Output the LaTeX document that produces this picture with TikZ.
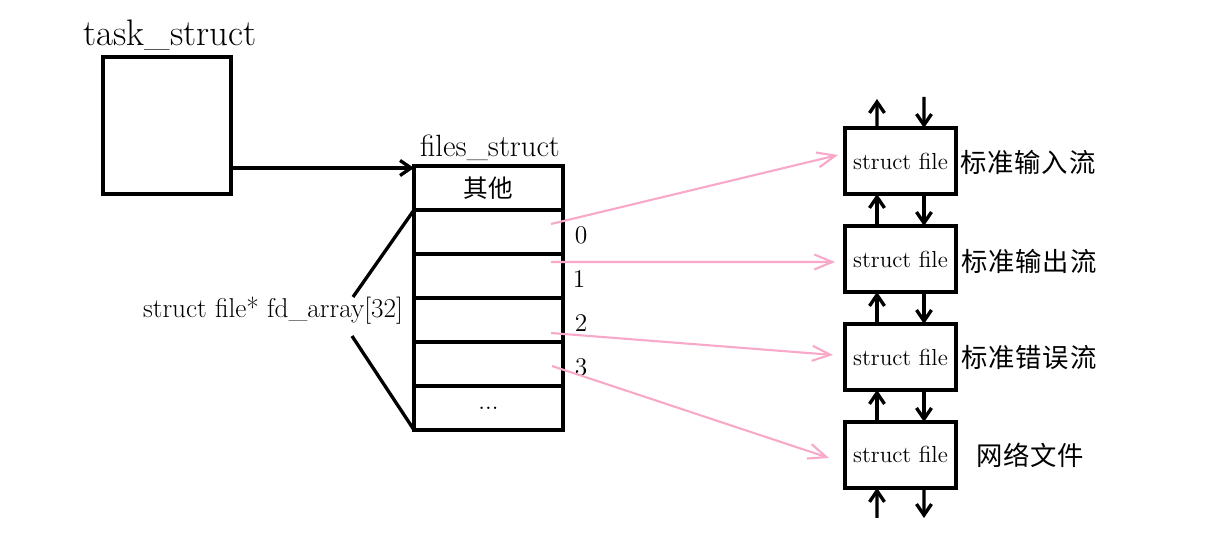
\documentclass[tikz,border=0pt]{standalone}
\usepackage{fontspec}
\usepackage{xcolor}
\usepackage{tikz}
\newfontfamily\cjk[LetterSpace=3]{Noto Sans CJK SC}
\definecolor{linkpink}{RGB}{248,168,200}
\tikzset{
  box/.style={draw, line width=1.9pt, minimum width=2.22cm, minimum height=1.32cm,
              inner sep=0pt, outer sep=0pt, font=\fontsize{13.2}{15}\selectfont},
  slot/.style={draw, line width=1.9pt, minimum width=2.98cm, minimum height=0.88cm,
               inner sep=0pt, outer sep=0pt, font=\fontsize{14}{16}\selectfont},
  lbl/.style={inner sep=0pt, font=\fontsize{14.5}{16}\selectfont},
  cjklbl/.style={inner sep=0pt, font=\fontsize{15}{17}\selectfont\cjk},
  arrow/.style={-{Straight Barb[length=2.2mm,width=3mm]}, line width=1.9pt},
  link/.style={-{Straight Barb[length=3.6mm,width=3mm]}, line width=1.2pt, linkpink}
}
\usetikzlibrary{positioning, arrows.meta, calc}

\begin{document}
\begin{tikzpicture}[x=0.02cm, y=-0.02cm]
    \useasboundingbox (0,0) rectangle (1218,536);

    \node[draw, line width=1.9pt, minimum width=2.56cm, minimum height=2.74cm, outer sep=0pt] (task) at (167,125.5) {};
    \node[lbl, font=\fontsize{21}{23}\selectfont] (tasklbl) at (170,35) {task\_struct};

    \node[slot] (other) at (488.5,188) {\cjk 其他};
    \node[slot, below=0pt of other] (fd0) {};
    \node[slot, below=0pt of fd0] (fd1) {};
    \node[slot, below=0pt of fd1] (fd2) {};
    \node[slot, below=0pt of fd2] (fd3) {};
    \node[slot, below=0pt of fd3] (more) {...};
    \node[lbl, font=\fontsize{17.5}{19}\selectfont] (fileslbl) at (490,148) {files\_struct};

    \node[lbl] (idx0) at (581,235) {0};
    \node[lbl] (idx1) at (579,279) {1};
    \node[lbl] (idx2) at (581,323) {2};
    \node[lbl] (idx3) at (581,367) {3};

    \node[lbl, font=\fontsize{15.5}{17}\selectfont] (fdlbl) at (273,311) {struct file* fd\_array[32]};
    \coordinate (fdtop) at (353,297);
    \coordinate (fdbot) at (352,336);
    \draw[line width=1.9pt] (fdtop) -- (fd0.north west);
    \draw[line width=1.9pt] (fdbot) -- (more.south west);

    \draw[arrow] ([yshift=-0.85cm]task.east) -- ([yshift=-0.85cm]task.east -| other.west);

    \node[box] (stdin) at (900.5,161) {struct file};
    \node[box, below=0.64cm of stdin] (stdout) {struct file};
    \node[box, below=0.64cm of stdout] (stderr) {struct file};
    \node[box, below=0.64cm of stderr] (net) {struct file};

    \node[cjklbl] (stdinlbl) at (1028,162) {标准输入流};
    \node[cjklbl] (stdoutlbl) at (1029,261) {标准输出流};
    \node[cjklbl] (stderrlbl) at (1029,358) {标准错误流};
    \node[cjklbl] (netlbl) at (1030,455) {网络文件};

    \coordinate (topup) at (877,99);
    \coordinate (topdown) at (924,97);
    \coordinate (botup) at (877,518);
    \coordinate (botdown) at (924,518);
    \draw[arrow] ([xshift=0.64cm]stdin.north west) -- (topup);
    \draw[arrow] (topdown) -- ([xshift=-0.64cm]stdin.north east);
    \draw[arrow] ([xshift=0.64cm]stdout.north west) -- ([xshift=0.64cm]stdin.south west);
    \draw[arrow] ([xshift=-0.64cm]stdin.south east) -- ([xshift=-0.64cm]stdout.north east);
    \draw[arrow] ([xshift=0.64cm]stderr.north west) -- ([xshift=0.64cm]stdout.south west);
    \draw[arrow] ([xshift=-0.64cm]stdout.south east) -- ([xshift=-0.64cm]stderr.north east);
    \draw[arrow] ([xshift=0.64cm]net.north west) -- ([xshift=0.64cm]stderr.south west);
    \draw[arrow] ([xshift=-0.64cm]stderr.south east) -- ([xshift=-0.64cm]net.north east);
    \draw[arrow] (botup) -- ([xshift=0.64cm]net.south west);
    \draw[arrow] ([xshift=-0.64cm]net.south east) -- (botdown);

    \coordinate (s0) at (551,224);
    \coordinate (s1) at (551,262);
    \coordinate (s2) at (551,333);
    \coordinate (s3) at (552,366);
    \draw[link] (s0) -- ([shift={(-7,-6)}]stdin.west);
    \draw[link] (s1) -- ([shift={(-10,3)}]stdout.west);
    \draw[link] (s2) -- ([shift={(-12,-2)}]stderr.west);
    \draw[link] (s3) -- ([shift={(-16,3)}]net.west);
\end{tikzpicture}
\end{document}
